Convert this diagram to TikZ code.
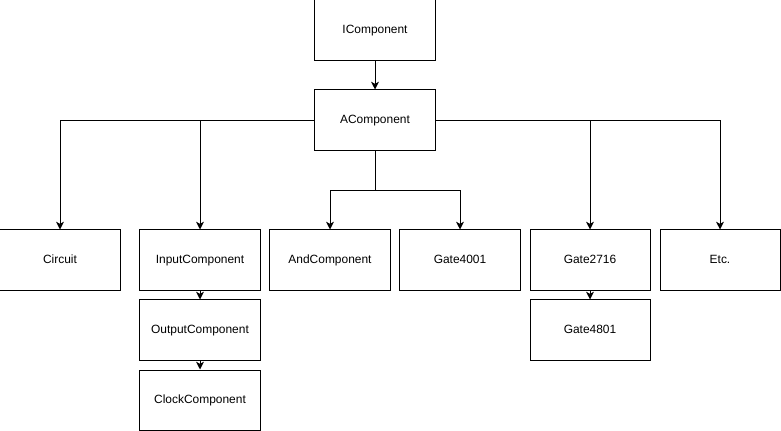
\documentclass[tikz,border=0pt]{standalone}
\usepackage{fontspec}
\setmainfont{Liberation Sans}
\usetikzlibrary{arrows.meta}

\tikzset{
  kasten/.style={draw, line width=0.7pt, minimum width=3cm, minimum height=1.5cm,
    inner sep=0pt, text height=6.2pt, text depth=1.8pt, font=\fontsize{8.5}{10}\selectfont},
  pfeil/.style={line width=0.7pt, -{Stealth[length=5.5pt, width=5.5pt, inset=1.5pt]}}
}

\begin{document}
\begin{tikzpicture}[x=0.025cm, y=-0.025cm]
  \useasboundingbox (0,0) rectangle (781,431);

  % Oben
  \node[kasten] (ic) at (375,30) {IComponent};
  \node[kasten] (ac) at (375,120) {AComponent};

  % Mittlere Reihe
  \node[kasten] (circ)  at (60,260)  {Circuit};
  \node[kasten] (inp)   at (200,260) {InputComponent};
  \node[kasten] (andc)  at (330,260) {AndComponent};
  \node[kasten] (g4001) at (460,260) {Gate4001};
  \node[kasten] (g2716) at (590,260) {Gate2716};
  \node[kasten] (etc)   at (720,260) {Etc.};

  % Unten
  \node[kasten] (outp)  at (200,330) {OutputComponent};
  \node[kasten] (clk)   at (200,400) {ClockComponent};
  \node[kasten] (g4801) at (590,330) {Gate4801};

  \coordinate (abzw) at (375,190);

  \draw[pfeil] (ic) -- (ac);
  \draw[pfeil] (ac.west) -| (circ);
  \draw[pfeil] (ac.west) -| (inp);
  \draw[pfeil] (ac.east) -| (g2716);
  \draw[pfeil] (ac.east) -| (etc);
  \draw[line width=0.7pt] (ac) -- (abzw);
  \draw[pfeil] (abzw) -| (andc);
  \draw[pfeil] (abzw) -| (g4001);
  \draw[pfeil] (inp) -- (outp);
  \draw[pfeil] (outp) -- (clk);
  \draw[pfeil] (g2716) -- (g4801);
\end{tikzpicture}
\end{document}
